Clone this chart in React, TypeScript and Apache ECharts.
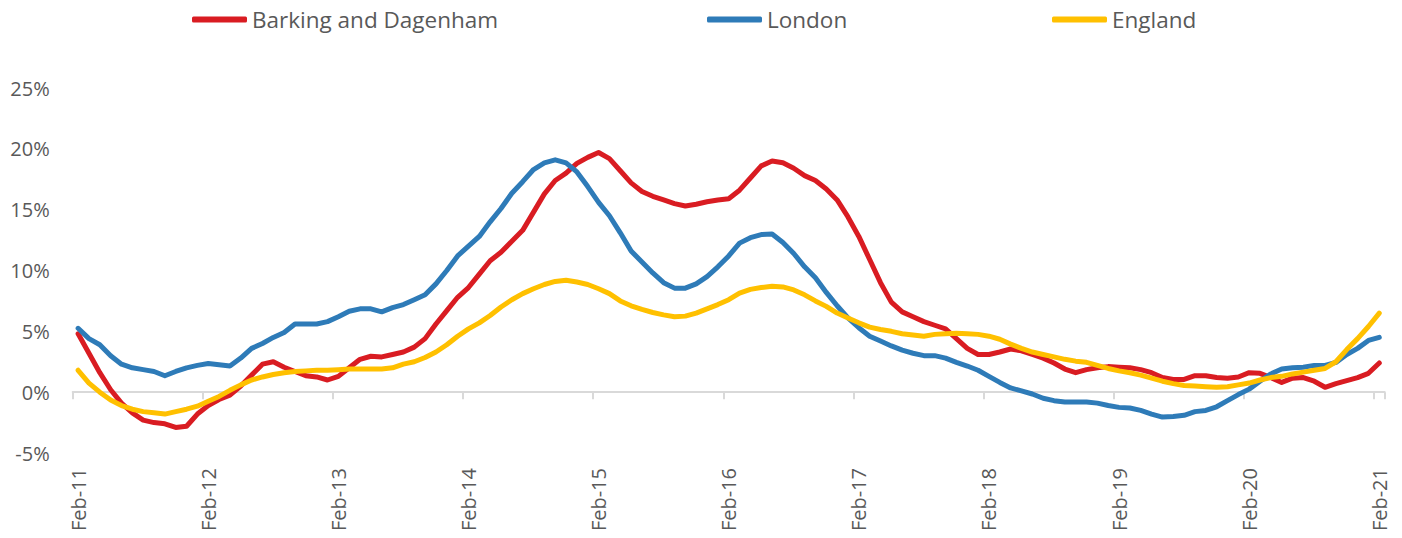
import React, { useEffect, useRef } from "react";
import * as echarts from "echarts";

const monthNames = ["Jan", "Feb", "Mar", "Apr", "May", "Jun", "Jul", "Aug", "Sep", "Oct", "Nov", "Dec"];
const startYear = 11;
const startMonth = 1; // Feb
const pointCount = 121;
const categories: string[] = [];
for (let i = 0; i < pointCount; i++) {
  const m = (startMonth + i) % 12;
  const y = startYear + Math.floor((startMonth + i) / 12);
  categories.push(`${monthNames[m]}-${y}`);
}

const seriesNames = ["Barking and Dagenham", "London", "England"];

const barking = [
  4.8, 3.2, 1.6, 0.2, -0.9, -1.7, -2.3, -2.5, -2.6, -2.9, -2.8, -1.8,
  -1.1, -0.6, -0.25, 0.5, 1.4, 2.3, 2.5, 2.05, 1.7, 1.35, 1.25, 1.0,
  1.3, 2.0, 2.7, 2.95, 2.9, 3.1, 3.3, 3.7, 4.4, 5.6, 6.7, 7.8,
  8.6, 9.7, 10.8, 11.5, 12.4, 13.3, 14.8, 16.3, 17.4, 18.0, 18.8, 19.3,
  19.7, 19.2, 18.2, 17.2, 16.5, 16.1, 15.8, 15.5, 15.3, 15.45, 15.65, 15.8,
  15.9, 16.6, 17.6, 18.6, 19.0, 18.85, 18.4, 17.8, 17.4, 16.7, 15.8, 14.4,
  12.8, 10.9, 9.0, 7.4, 6.6, 6.2, 5.8, 5.5, 5.2, 4.4, 3.6, 3.1,
  3.1, 3.3, 3.55, 3.4, 3.1, 2.8, 2.4, 1.9, 1.6, 1.85, 2.0, 2.1,
  2.05, 2.0, 1.85, 1.6, 1.2, 1.05, 1.05, 1.35, 1.35, 1.2, 1.15, 1.25,
  1.6, 1.55, 1.2, 0.8, 1.15, 1.2, 0.9, 0.4, 0.7, 0.95, 1.2, 1.55,
  2.4,
];

const london = [
  5.25, 4.4, 3.9, 3.0, 2.3, 2.0, 1.85, 1.7, 1.35, 1.7, 2.0, 2.2,
  2.35, 2.25, 2.15, 2.8, 3.6, 4.0, 4.5, 4.9, 5.6, 5.6, 5.6, 5.8,
  6.2, 6.65, 6.85, 6.85, 6.6, 6.95, 7.2, 7.6, 8.0, 8.9, 10.0, 11.2,
  12.0, 12.8, 14.0, 15.1, 16.35, 17.3, 18.3, 18.85, 19.1, 18.85, 18.1, 16.9,
  15.6, 14.5, 13.1, 11.6, 10.7, 9.8, 9.0, 8.55, 8.55, 8.9, 9.5, 10.3,
  11.2, 12.25, 12.7, 12.95, 13.0, 12.3, 11.4, 10.3, 9.4, 8.2, 7.1, 6.1,
  5.3, 4.6, 4.2, 3.8, 3.45, 3.2, 3.0, 3.0, 2.8, 2.45, 2.15, 1.8,
  1.3, 0.8, 0.35, 0.1, -0.15, -0.5, -0.7, -0.8, -0.8, -0.8, -0.9, -1.1,
  -1.25, -1.3, -1.5, -1.8, -2.05, -2.0, -1.9, -1.6, -1.5, -1.2, -0.7, -0.2,
  0.25, 0.9, 1.5, 1.9, 2.0, 2.05, 2.2, 2.2, 2.45, 3.1, 3.6, 4.25,
  4.5,
];

const england = [
  1.8, 0.75, 0.0, -0.65, -1.1, -1.4, -1.6, -1.7, -1.8, -1.6, -1.4, -1.15,
  -0.75, -0.35, 0.15, 0.6, 1.0, 1.25, 1.45, 1.6, 1.7, 1.75, 1.8, 1.8,
  1.85, 1.9, 1.9, 1.9, 1.9, 2.0, 2.3, 2.5, 2.85, 3.3, 3.9, 4.6,
  5.2, 5.7, 6.3, 7.0, 7.6, 8.1, 8.5, 8.85, 9.1, 9.2, 9.05, 8.85,
  8.5, 8.1, 7.5, 7.1, 6.8, 6.55, 6.35, 6.2, 6.25, 6.5, 6.85, 7.2,
  7.6, 8.15, 8.45, 8.6, 8.7, 8.65, 8.4, 8.0, 7.5, 7.05, 6.5, 6.1,
  5.7, 5.35, 5.15, 5.0, 4.8, 4.7, 4.6, 4.75, 4.8, 4.85, 4.8, 4.75,
  4.6, 4.35, 3.95, 3.6, 3.3, 3.1, 2.9, 2.7, 2.55, 2.45, 2.2, 1.95,
  1.75, 1.6, 1.4, 1.15, 0.9, 0.7, 0.55, 0.5, 0.45, 0.4, 0.45, 0.6,
  0.75, 1.0, 1.2, 1.3, 1.5, 1.65, 1.8, 1.95, 2.5, 3.5, 4.4, 5.4,
  6.5,
];

const colors = ["#D91C22", "#2E7BB8", "#FFC000"];
const seriesData = [barking, london, england];
const legendLefts = [192, 707, 1052];

const FONT = "'Open Sans', sans-serif";
const TEXT_COLOR = "#595959";

export default function App() {
  const ref = useRef<HTMLDivElement>(null);
  useEffect(() => {
    if (!ref.current) return;
    const chart = echarts.init(ref.current, undefined, { renderer: "svg" });
    chart.setOption({
      animation: false,
      backgroundColor: "#ffffff",
      legend: seriesNames.map((name, k) => ({
        data: [name],
        left: legendLefts[k],
        top: 8,
        padding: 0,
        icon: "roundRect",
        itemWidth: 55,
        itemHeight: 6,
        textStyle: { fontFamily: FONT, fontSize: 22.5, color: TEXT_COLOR },
      })),
      grid: {
        left: 72.7,
        right: 17.3,
        top: 88,
        bottom: 85,
        containLabel: false,
        outerBoundsMode: "none",
      },
      xAxis: {
        type: "category",
        data: categories,
        boundaryGap: true,
        axisLine: { show: true, onZero: true, lineStyle: { color: "#D9D9D9", width: 2 } },
        axisTick: { show: true, interval: 11, length: 7, lineStyle: { color: "#D9D9D9", width: 2 } },
        axisLabel: {
          interval: 11,
          rotate: 90,
          margin: 15,
          fontFamily: FONT,
          fontSize: 20,
          color: TEXT_COLOR,
        },
        splitLine: { show: false },
      },
      yAxis: {
        type: "value",
        min: -5,
        max: 25,
        interval: 5,
        axisLine: { show: false },
        axisTick: { show: false },
        splitLine: { show: false },
        axisLabel: {
          margin: 23,
          fontFamily: FONT,
          fontSize: 20,
          color: TEXT_COLOR,
          formatter: (v: number) => `${v}%`,
        },
      },
      series: seriesNames.map((name, k) => ({
        name,
        type: "line",
        data: seriesData[k],
        symbol: "none",
        smooth: false,
        color: colors[k],
        lineStyle: { width: 5, color: colors[k], cap: "round", join: "round" },
        itemStyle: { color: colors[k] },
      })),
    });
    return () => chart.dispose();
  }, []);
  return (
    <div
      ref={ref}
      style={{ position: "fixed", left: 0, top: 0, width: 1402, height: 538, background: "#fff" }}
    />
  );
}
